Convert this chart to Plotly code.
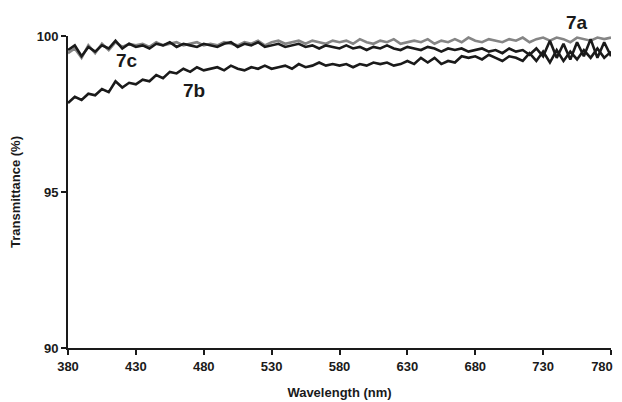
import plotly.graph_objects as go

wavelength = list(range(380, 781, 5))

t_7a = [99.45, 99.6, 99.3, 99.7, 99.45, 99.75, 99.55, 99.8, 99.65, 99.75,
        99.7, 99.75, 99.65, 99.8, 99.7, 99.75, 99.8, 99.7, 99.75, 99.8,
        99.7, 99.75, 99.7, 99.8, 99.75, 99.7, 99.8, 99.75, 99.85, 99.7,
        99.8, 99.85, 99.75, 99.8, 99.85, 99.75, 99.85, 99.8, 99.75, 99.85,
        99.8, 99.85, 99.75, 99.9, 99.8, 99.75, 99.85, 99.8, 99.9, 99.75,
        99.8, 99.85, 99.8, 99.9, 99.75, 99.85, 99.8, 99.9, 99.8, 99.95,
        99.85, 99.8, 99.9, 99.85, 99.8, 99.9, 99.85, 99.95, 99.8, 99.9,
        99.95, 99.85, 99.95, 99.9, 99.8, 99.95, 99.9, 99.85, 99.95, 99.9,
        99.95]

t_7c = [99.55, 99.7, 99.35, 99.65, 99.5, 99.7, 99.6, 99.85, 99.6, 99.75,
        99.65, 99.7, 99.6, 99.75, 99.7, 99.8, 99.65, 99.75, 99.7, 99.65,
        99.75, 99.7, 99.65, 99.75, 99.8, 99.65, 99.75, 99.7, 99.8, 99.65,
        99.7, 99.75, 99.65, 99.7, 99.75, 99.65, 99.7, 99.6, 99.7, 99.65,
        99.6, 99.7, 99.6, 99.65, 99.55, 99.65, 99.6, 99.7, 99.6, 99.55,
        99.65, 99.6, 99.55, 99.65, 99.6, 99.5, 99.6, 99.55, 99.6, 99.5,
        99.55, 99.6, 99.5, 99.55, 99.45, 99.6, 99.5, 99.55, 99.4, 99.6,
        99.35, 99.85, 99.3, 99.75, 99.25, 99.8, 99.35, 99.9, 99.3, 99.8,
        99.35]

t_7b = [97.85, 98.05, 97.95, 98.15, 98.1, 98.3, 98.2, 98.55, 98.35, 98.5,
        98.45, 98.6, 98.55, 98.75, 98.65, 98.85, 98.8, 98.95, 98.85, 99.0,
        98.9, 98.95, 99.0, 98.9, 99.05, 98.95, 98.9, 99.0, 98.95, 99.05,
        98.95, 99.0, 99.05, 98.95, 99.1, 99.0, 99.05, 99.15, 99.05, 99.1,
        99.05, 99.1, 99.0, 99.1, 99.05, 99.15, 99.1, 99.15, 99.05, 99.1,
        99.2, 99.1, 99.3, 99.15, 99.3, 99.1, 99.2, 99.15, 99.35, 99.3,
        99.35, 99.25, 99.4, 99.3, 99.2, 99.35, 99.3, 99.2, 99.45, 99.2,
        99.5, 99.15, 99.55, 99.2, 99.5, 99.25, 99.55, 99.3, 99.6, 99.3,
        99.5]

x_ticks = list(range(380, 781, 50))
x_ticktext = [f"<b>{v}</b>" for v in x_ticks]
x_ticktext[-1] = x_ticktext[-1] + "\u00a0" * 5  # keep last label inside the visible page
y_ticks = [90, 95, 100]

label_7a = ("7a", 755, 1.043)
labels_in = [("7c", 423.5, 99.23), ("7b", 472.8, 98.24)]

fig = go.Figure()
fig.add_trace(go.Scatter(x=wavelength, y=t_7a, mode="lines", name="7a",
                         line=dict(color="#858585", width=2.6)))
fig.add_trace(go.Scatter(x=wavelength, y=t_7b, mode="lines", name="7b",
                         line=dict(color="#1a1a1a", width=2.6)))
fig.add_trace(go.Scatter(x=wavelength, y=t_7c, mode="lines", name="7c",
                         line=dict(color="#1a1a1a", width=2.6)))

lab_font = dict(family="Liberation Sans, Arial", size=19, color="#1a1a1a")
fig.add_annotation(x=label_7a[1], y=label_7a[2], xref="x", yref="paper",
                   xanchor="center", yanchor="middle",
                   text=f"<b>{label_7a[0]}</b>", showarrow=False, font=lab_font)
for text, xx, yy in labels_in:
    fig.add_annotation(x=xx, y=yy, text=f"<b>{text}</b>", showarrow=False, font=lab_font)

tick_font = dict(family="Liberation Sans Narrow, Arial Narrow, Liberation Sans", size=13, color="#1a1a1a")
title_font = dict(family="Liberation Sans, Arial", size=13, color="#1a1a1a")
fig.update_layout(
    width=614, height=394,
    margin=dict(l=60, r=11, t=28, b=54),
    plot_bgcolor="white", paper_bgcolor="white",
    showlegend=False,
    xaxis=dict(range=[380, 780], tickvals=x_ticks, ticktext=x_ticktext,
               automargin=False, ticklabeloverflow="allow",
               showgrid=False, zeroline=False, showline=True, linecolor="#1a1a1a", linewidth=2,
               ticks="outside", ticklen=5, tickwidth=1.5, tickcolor="#1a1a1a",
               tickfont=tick_font,
               title=dict(text="<b>Wavelength (nm)</b>", standoff=15, font=title_font)),
    yaxis=dict(range=[90, 100], tickvals=y_ticks, ticktext=[f"<b>{v}</b>" for v in y_ticks],
               automargin=False, ticklabeloverflow="allow",
               showgrid=False, zeroline=False, showline=True, linecolor="#1a1a1a", linewidth=2,
               ticks="outside", ticklen=5, tickwidth=1.5, tickcolor="#1a1a1a",
               tickfont=tick_font,
               title=dict(text="<b>Transmittance (%)</b>", standoff=14, font=title_font)),
)

fig.write_html("out.html")
